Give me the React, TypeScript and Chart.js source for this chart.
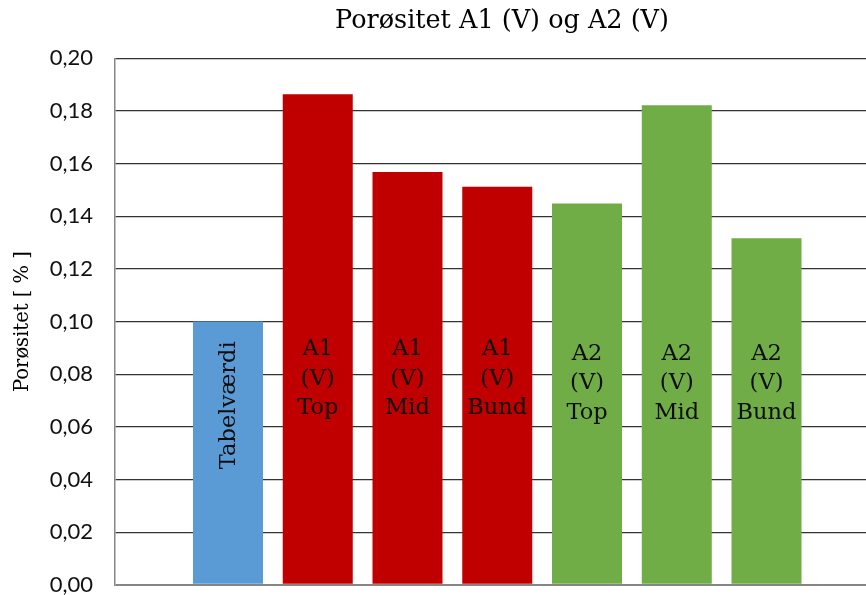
import React, { useEffect, useRef } from 'react';
import { Chart, registerables } from 'chart.js';

Chart.register(...registerables);

// Samples and their measured porosity
const categories = [
  'Tabelværdi',
  'A1 (V) Top',
  'A1 (V) Mid',
  'A1 (V) Bund',
  'A2 (V) Top',
  'A2 (V) Mid',
  'A2 (V) Bund',
];
const porosity = [0.1, 0.1863, 0.1568, 0.1512, 0.1448, 0.1822, 0.1316];
const groups = ['ref', 'A1', 'A1', 'A1', 'A2', 'A2', 'A2'];
const yTickValues = [0, 0.02, 0.04, 0.06, 0.08, 0.1, 0.12, 0.14, 0.16, 0.18, 0.2];

const groupColors: Record<string, string> = {
  ref: '#5B9BD5',
  A1: '#C00000',
  A2: '#70AD47',
};

const SERIF = '"DejaVu Serif", "Liberation Serif", serif';
const SANS = 'Lato, "Liberation Sans", sans-serif';

// Writes each sample's name inside its bar
const barNamePlugin = {
  id: 'barNames',
  afterDatasetsDraw(chart: any) {
    const { ctx } = chart;
    const yScale = chart.scales.y;
    const meta = chart.getDatasetMeta(0);
    ctx.save();
    ctx.fillStyle = '#0d0d0d';
    ctx.font = `22.5px ${SERIF}`;
    ctx.textAlign = 'center';
    ctx.textBaseline = 'middle';
    meta.data.forEach((bar: any, i: number) => {
      const name = categories[i];
      const lines = name.split(' ');
      if (lines.length === 1) {
        const cy = yScale.getPixelForValue(0.0682);
        ctx.save();
        ctx.translate(bar.x + 1.5, cy);
        ctx.rotate(-Math.PI / 2);
        ctx.fillText(name, 0, 0);
        ctx.restore();
      } else {
        const mid = yScale.getPixelForValue(groups[i] === 'A2' ? 0.0765 : 0.0782);
        const lh = 29.5;
        const start = mid - ((lines.length - 1) * lh) / 2;
        lines.forEach((ln, k) => ctx.fillText(ln, bar.x, start + k * lh));
      }
    });
    ctx.restore();
  },
};

export default function App() {
  const canvasRef = useRef<HTMLCanvasElement | null>(null);

  useEffect(() => {
    if (!canvasRef.current) return;
    const chart = new Chart(canvasRef.current, {
      type: 'bar',
      data: {
        datasets: [
          {
            label: 'Porøsitet',
            data: porosity.map((v, i) => ({ x: i, y: v })),
            backgroundColor: groups.map((g) => groupColors[g]),
            borderWidth: 0,
            barPercentage: 1,
            categoryPercentage: 0.78,
          },
        ],
      },
      options: {
        animation: false,
        responsive: false,
        maintainAspectRatio: false,
        devicePixelRatio: 1,
        layout: { padding: { left: 0, right: 0, top: 0, bottom: 34.2 } },
        plugins: {
          legend: { display: false },
          tooltip: { enabled: false },
          title: {
            display: true,
            text: 'Porøsitet A1 (V) og A2 (V)',
            color: '#000',
            font: { family: SERIF, size: 25.5, weight: 'normal' },
            padding: { top: 6.5, bottom: 21.2 },
          },
        },
        scales: {
          x: {
            type: 'linear',
            display: false,
            offset: false,
            min: -1.259,
            max: 8.646,
            ticks: { stepSize: 1, includeBounds: false },
            grid: { display: false },
          },
          y: {
            min: 0,
            max: 0.2,
            afterBuildTicks: (scale: any) => {
              scale.ticks = yTickValues.map((v) => ({ value: v }));
            },
            afterFit: (scale: any) => {
              scale.width = 115;
            },
            ticks: {
              padding: 22,
              color: '#111',
              font: { family: SANS, size: 22 },
              callback: (v: any) => Number(v).toFixed(2).replace('.', ','),
            },
            grid: {
              drawTicks: false,
              color: (ctx: any) => (ctx.tick && ctx.tick.value === 0 ? '#868686' : '#333'),
              lineWidth: (ctx: any) => (ctx.tick && ctx.tick.value === 0 ? 2 : 1.3),
            },
            border: { display: true, color: '#868686', width: 1.5 },
            title: {
              display: true,
              text: 'Porøsitet [ % ]',
              color: '#000',
              font: { family: SERIF, size: 19.5, weight: 'normal' },
              padding: { top: 11, bottom: 0 },
            },
          },
        },
      },
      plugins: [barNamePlugin],
    });
    return () => chart.destroy();
  }, []);

  return (
    <div
      style={{
        position: 'fixed',
        left: 0,
        top: 0,
        width: 866,
        height: 595,
        overflow: 'hidden',
        background: '#fff',
      }}
    >
      <canvas ref={canvasRef} width={1004} height={620} style={{ display: 'block' }} />
    </div>
  );
}
